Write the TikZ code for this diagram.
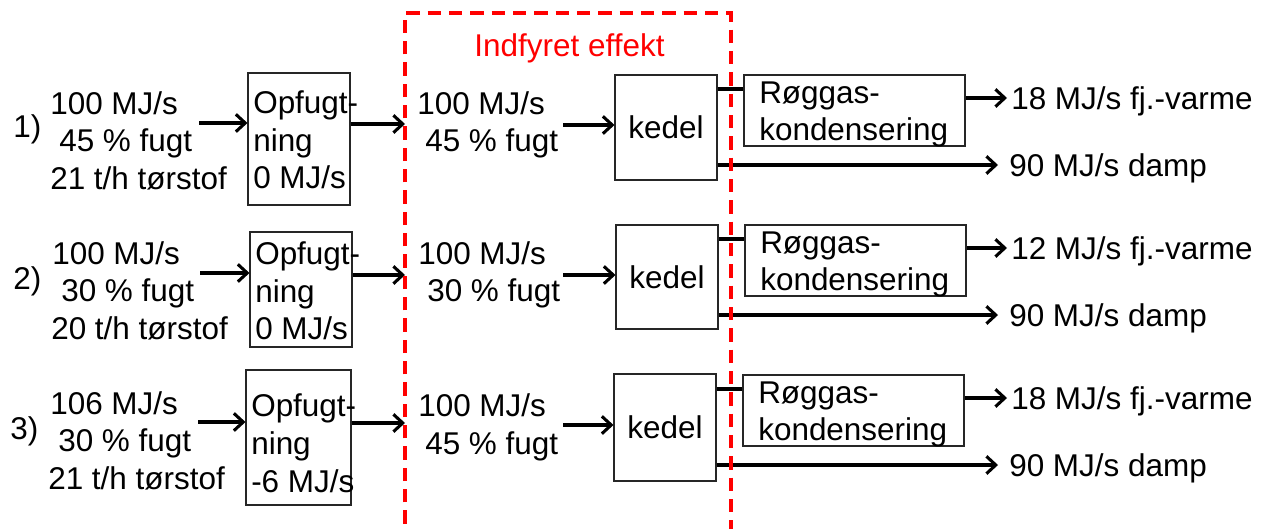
\documentclass[tikz,border=0pt]{standalone}
\usepackage{fontspec}
\setmainfont{Liberation Sans}
\usetikzlibrary{arrows.meta,fit}
\begin{document}
\begin{tikzpicture}[x=0.75pt,y=-0.75pt,
  ln/.style={inner sep=0pt, anchor=west, text height=16.9pt, text depth=0pt, font=\fontsize{23.6pt}{28pt}\selectfont},
  box/.style={draw=black!85, line width=0.8pt, inner sep=0pt},
  arr/.style={line width=2.3pt, -{Straight Barb[length=7pt,width=13pt]}},
  cn/.style={line width=2.3pt},
  zone/.style={draw=red, line width=2.3pt, dash pattern=on 10pt off 6pt}
]
\useasboundingbox (0,0) rectangle (1266,528);
\clip (0,0) rectangle (1266,528);

% ---------- Row 1 ----------
\node[ln] (n1) at (13,126) {1)};
\node[ln] (l1a) at (50,103) {100 MJ/s};
\node[ln] (l1b) at (59,140.5) {45 \% fugt};
\node[ln] (l1c) at (50,178) {21 t/h tørstof};
\coordinate (a1) at (199,123);
\node[box, fit={(248,73) (350,205)}] (o1) {};
\node[ln] (o1a) at (253,102) {Opfugt-};
\node[ln] (o1b) at (253,140) {ning};
\node[ln] (o1c) at (253,177) {0 MJ/s};
\coordinate (b1) at (405,124);
\node[ln] (m1a) at (417,103) {100 MJ/s};
\node[ln] (m1b) at (425,140.5) {45 \% fugt};
\coordinate (c1) at (563,125);
\node[box, fit={(615,75) (717,180)}] (k1) {};
\node[ln, anchor=center] (k1t) at (k1.center) {kedel};
\node[box, fit={(744,75) (965,146)}] (r1) {};
\node[ln] (r1a) at (759,92) {Røggas-};
\node[ln] (r1b) at (759,129) {kondensering};
\coordinate (t1) at (0,89);
\coordinate (f1) at (1007,98);
\node[ln] (v1) at (1011,98) {18 MJ/s fj.-varme};
\coordinate (d1) at (998,165);
\node[ln] (p1) at (1009,165) {90 MJ/s damp};

\draw[arr] (a1) -- (a1 -| o1.west);
\draw[arr] (b1 -| o1.east) -- (b1);
\draw[arr] (c1) -- (c1 -| k1.west);
\draw[cn] (t1 -| k1.east) -- (t1 -| r1.west);
\draw[arr] (f1 -| r1.east) -- (f1);
\draw[arr] (d1 -| k1.east) -- (d1);

% ---------- Row 2 ----------
\node[ln] (n2) at (13,278) {2)};
\node[ln] (l2a) at (52,253) {100 MJ/s};
\node[ln] (l2b) at (61,290.5) {30 \% fugt};
\node[ln] (l2c) at (51,328) {20 t/h tørstof};
\coordinate (a2) at (200,273);
\node[box, fit={(250,232) (352,347)}] (o2) {};
\node[ln] (o2a) at (255,253) {Opfugt-};
\node[ln] (o2b) at (255,291) {ning};
\node[ln] (o2c) at (255,328) {0 MJ/s};
\coordinate (b2) at (405,275);
\node[ln] (m2a) at (418,253) {100 MJ/s};
\node[ln] (m2b) at (427,290.5) {30 \% fugt};
\coordinate (c2) at (563,275);
\node[box, fit={(616,225) (718,329)}] (k2) {};
\node[ln, anchor=center] (k2t) at (k2.center) {kedel};
\node[box, fit={(745,225) (966,296)}] (r2) {};
\node[ln] (r2a) at (760,242) {Røggas-};
\node[ln] (r2b) at (760,279) {kondensering};
\coordinate (t2) at (0,239);
\coordinate (f2) at (1007,248);
\node[ln] (v2) at (1011,248) {12 MJ/s fj.-varme};
\coordinate (d2) at (998,315);
\node[ln] (p2) at (1009,315) {90 MJ/s damp};

\draw[arr] (a2) -- (a2 -| o2.west);
\draw[arr] (b2 -| o2.east) -- (b2);
\draw[arr] (c2) -- (c2 -| k2.west);
\draw[cn] (t2 -| k2.east) -- (t2 -| r2.west);
\draw[arr] (f2 -| r2.east) -- (f2);
\draw[arr] (d2 -| k2.east) -- (d2);

% ---------- Row 3 ----------
\node[ln] (n3) at (10,428) {3)};
\node[ln] (l3a) at (50,403) {106 MJ/s};
\node[ln] (l3b) at (58,440.5) {30 \% fugt};
\node[ln] (l3c) at (48,478) {21 t/h tørstof};
\coordinate (a3) at (198,422);
\node[box, fit={(246,370) (351,505)}] (o3) {};
\node[ln] (o3a) at (251,405) {Opfugt-};
\node[ln] (o3b) at (251,443) {ning};
\node[ln] (o3c) at (251,481) {-6 MJ/s};
\coordinate (b3) at (405,423);
\node[ln] (m3a) at (418,405) {100 MJ/s};
\node[ln] (m3b) at (425,443) {45 \% fugt};
\coordinate (c3) at (563,425);
\node[box, fit={(614,374) (716,481)}] (k3) {};
\node[ln, anchor=center] (k3t) at (k3.center) {kedel};
\node[box, fit={(743,375) (964,446)}] (r3) {};
\node[ln] (r3a) at (758,392) {Røggas-};
\node[ln] (r3b) at (758,429) {kondensering};
\coordinate (t3) at (0,389);
\coordinate (f3) at (1007,398);
\node[ln] (v3) at (1011,398) {18 MJ/s fj.-varme};
\coordinate (d3) at (998,465);
\node[ln] (p3) at (1009,465) {90 MJ/s damp};

\draw[arr] (a3) -- (a3 -| o3.west);
\draw[arr] (b3 -| o3.east) -- (b3);
\draw[arr] (c3) -- (c3 -| k3.west);
\draw[cn] (t3 -| k3.east) -- (t3 -| r3.west);
\draw[arr] (f3 -| r3.east) -- (f3);
\draw[arr] (d3 -| k3.east) -- (d3);

% ---------- Indfyret effekt zone ----------
\node[ln, anchor=center, text=red] (title) at (569.5,45) {Indfyret effekt};
\draw[zone] (405,545) -- (405,13) -- (731,13) -- (731,545);
\end{tikzpicture}
\end{document}
